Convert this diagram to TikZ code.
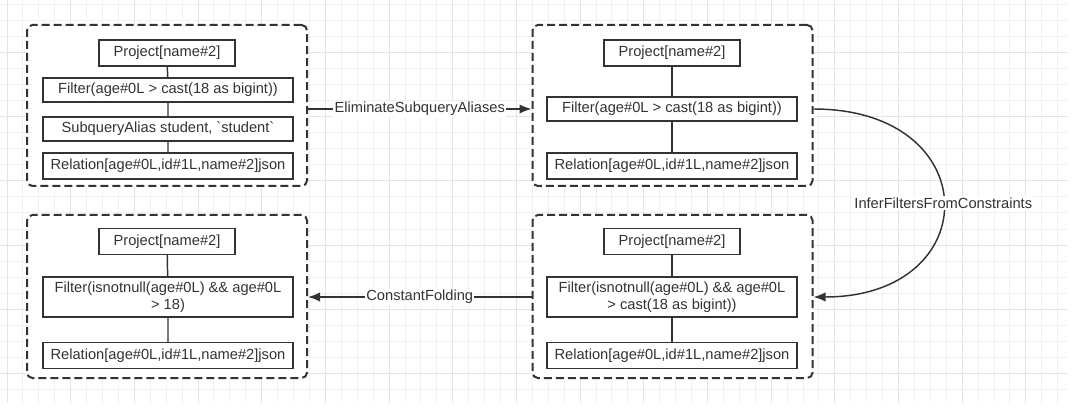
\documentclass[tikz,border=0pt]{standalone}
\usepackage{fontspec}
\setmainfont{Liberation Sans}
\usetikzlibrary{arrows.meta}
\definecolor{ink}{HTML}{333333}
\definecolor{gridminor}{HTML}{F1F1F1}
\definecolor{gridmajor}{HTML}{E4E4E4}
\tikzset{
	plan/.style={draw=ink, fill=white, line width=1.1pt, text=ink, minimum width=187.5pt, minimum height=19.5pt, inner sep=1pt, align=center, font=\fontsize{11}{12.5}\selectfont},
	stage/.style={draw=ink, fill=white, line width=1.5pt, dash pattern=on 6pt off 3pt, rounded corners=4pt, minimum width=210pt, inner sep=0pt},
	rule/.style={draw=ink, line width=1.1pt, -{Latex[length=9pt,width=7pt]}},
	rulename/.style={fill=white, text=ink, inner sep=1pt, font=\fontsize{11}{12.5}\selectfont},
	link/.style={draw=ink, line width=1.1pt},
}

\begin{document}
\begin{tikzpicture}[x=0.75pt, y=-0.75pt]
			\useasboundingbox (0,0) rectangle (1080,413);
			\fill[white] (0,0) rectangle (1080,413);
			\foreach \i in {0,...,66}
				\draw[gridminor, line width=0.75pt] ({7+15.92*\i},0) -- ({7+15.92*\i},403);
			\foreach \j in {0,...,24}
				\draw[gridminor, line width=0.75pt] (0,{5+16*\j}) -- (1067,{5+16*\j});
			\foreach \i in {0,4,...,64}
				\draw[gridmajor, line width=0.75pt] ({7+15.92*\i},0) -- ({7+15.92*\i},403);
			\foreach \j in {3,7,...,23}
				\draw[gridmajor, line width=0.75pt] (0,{5+16*\j}) -- (1067,{5+16*\j});

			\node[stage, minimum height=120.75pt] (g1) at (167,105.5) {};
			\node[stage, minimum height=120.75pt] (g2) at (672.5,105.5) {};
			\node[stage, minimum height=122.25pt] (g3) at (167,296.5) {};
			\node[stage, minimum height=122.25pt] (g4) at (672.5,296.5) {};

			\node[plan, minimum width=102pt] (p1) at (167,53) {Project[name\#2]};
			\node[plan, minimum height=18pt] (f1) at (168,90) {Filter(age\#0L > cast(18 as bigint))};
			\node[plan, minimum height=18pt] (s1) at (168,129) {SubqueryAlias student, \textasciigrave student\textasciigrave};
			\node[plan] (r1) at (168,166) {Relation[age\#0L,id\#1L,name\#2]json};
			\draw[link] (p1) -- (f1) -- (s1) -- (r1);

			\node[plan, minimum width=102pt] (p2) at (672,53) {Project[name\#2]};
			\node[plan, minimum height=18pt] (f2) at (672,109) {Filter(age\#0L > cast(18 as bigint))};
			\node[plan] (r2) at (672,166) {Relation[age\#0L,id\#1L,name\#2]json};
			\draw[link] (p2) -- (f2) -- (r2);

			\node[plan, minimum width=102pt] (p3) at (167,241.5) {Project[name\#2]};
			\node[plan, minimum height=30pt] (f3) at (168,297) {Filter(isnotnull(age\#0L) \&\& age\#0L\\> 18)};
			\node[plan] (r3) at (168,355.5) {Relation[age\#0L,id\#1L,name\#2]json};
			\draw[link] (p3) -- (f3) -- (r3);

			\node[plan, minimum width=102pt] (p4) at (672,241.5) {Project[name\#2]};
			\node[plan, minimum height=30pt] (f4) at (672,297) {Filter(isnotnull(age\#0L) \&\& age\#0L\\> cast(18 as bigint))};
			\node[plan] (r4) at (672,355.5) {Relation[age\#0L,id\#1L,name\#2]json};
			\draw[link] (p4) -- (f4) -- (r4);

			\draw[rule] (g1.east |- f2) -- node[rulename] {EliminateSubqueryAliases} (g2.west |- f2);
			\draw[rule] (g2.east |- f2) .. controls +(173,0) and +(173,0) .. node[rulename] {InferFiltersFromConstraints} (g4.east |- f4);
			\draw[rule] (g4.west |- f4) -- node[rulename] {ConstantFolding} (g3.east |- f4);
		\end{tikzpicture}
\end{document}
